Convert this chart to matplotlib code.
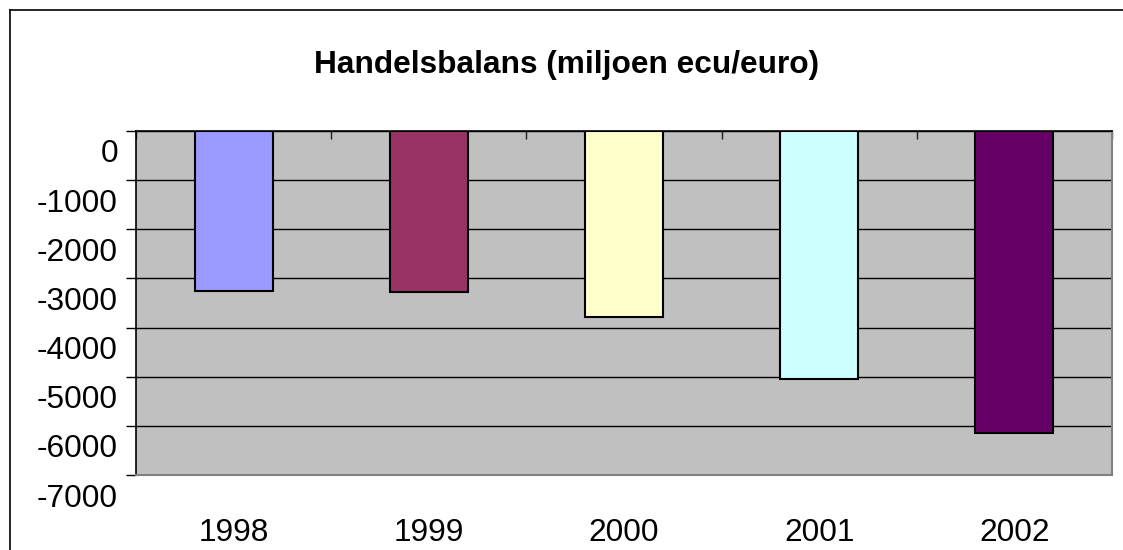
import matplotlib
matplotlib.use("Agg")
import matplotlib.pyplot as plt
import matplotlib.transforms as mtransforms
from matplotlib.lines import Line2D

plt.rcParams['font.family'] = ['Liberation Sans', 'DejaVu Sans']
plt.rcParams['axes.unicode_minus'] = False

# data
years = ['1998', '1999', '2000', '2001', '2002']
balans = [-3260, -3270, -3790, -5050, -6150]
bar_colors = ['#9999FF', '#993366', '#FFFFCC', '#CCFFFF', '#660066']
y_ticks = [0, -1000, -2000, -3000, -4000, -5000, -6000, -7000]

fig = plt.figure(figsize=(11.23, 5.5), dpi=100)
ax = fig.add_axes([136 / 1123, 1 - 475 / 550, (1112 - 136) / 1123, (475 - 131) / 550])
ax.set_facecolor('#C0C0C0')

x = list(range(len(years)))
ax.bar(x, balans, width=0.4, color=bar_colors, edgecolor='black', linewidth=1.5, zorder=3)

ax.set_xlim(-0.5, len(years) - 0.5)
ax.set_ylim(-7000, 0)

# gridlines
ax.set_yticks(y_ticks)
ax.yaxis.grid(True, color='black', linewidth=1.0, zorder=1)
ax.set_axisbelow(True)

# y tick labels shifted down like the original
ax.tick_params(axis='y', direction='out', length=7, width=1, color='black',
               labelsize=22.8, pad=6)
offset = mtransforms.ScaledTranslation(0, -0.2, fig.dpi_scale_trans)
for lab in ax.get_yticklabels():
    lab.set_transform(lab.get_transform() + offset)

# x labels at bottom, tick marks on the zero line (top)
ax.set_xticks(x)
ax.set_xticklabels(years)
ax.tick_params(axis='x', which='major', length=0, labelsize=22.8, pad=31)
ax.set_xticks([i - 0.5 for i in range(len(years) + 1)], minor=True)
ax.tick_params(axis='x', which='minor', top=True, bottom=False, direction='in',
               length=6, width=1, color='#202020')

for side in ['left', 'top']:
    ax.spines[side].set_color('black')
    ax.spines[side].set_linewidth(1.2)
for side in ['right', 'bottom']:
    ax.spines[side].set_color('#808080')
    ax.spines[side].set_linewidth(1.5)

fig.text(567 / 1123, 1 - 73 / 550, 'Handelsbalans (miljoen ecu/euro)',
         ha='center', va='baseline', fontsize=22.8, fontweight='bold')

# chart border (runs off the right and bottom of the image)
fig.add_artist(Line2D([9.5 / 1123, 9.5 / 1123], [1 - 9.5 / 550, -0.1],
                      transform=fig.transFigure, color='black', linewidth=1.2))
fig.add_artist(Line2D([9.5 / 1123, 1.1], [1 - 9.5 / 550, 1 - 9.5 / 550],
                      transform=fig.transFigure, color='black', linewidth=1.2))

fig.savefig('out.png', dpi=100)
